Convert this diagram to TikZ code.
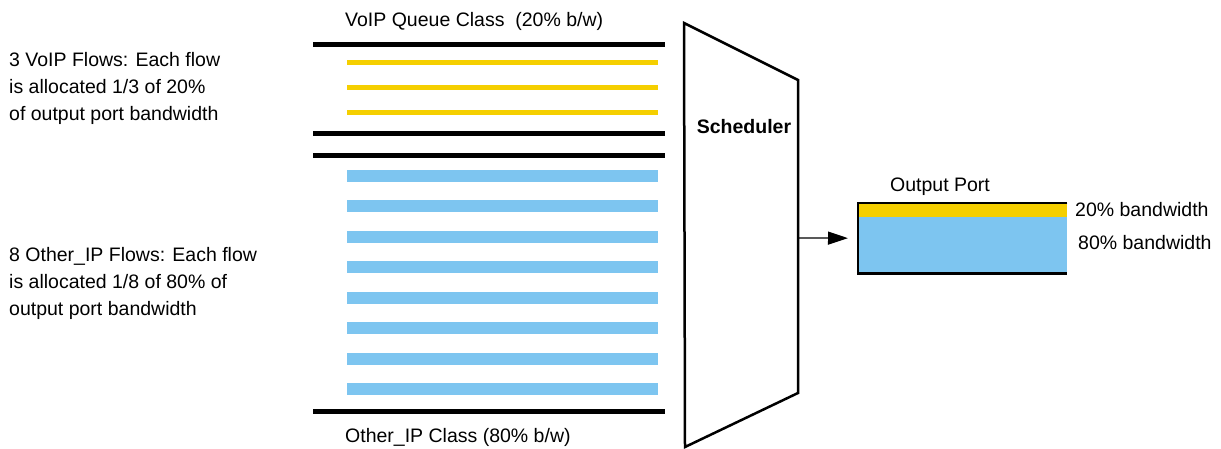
\documentclass[tikz,border=0pt]{standalone}
\usepackage{fontspec}
\setmainfont{Liberation Sans}
\usetikzlibrary{positioning,arrows.meta}
\definecolor{voipyellow}{RGB}{245,207,0}
\definecolor{ipblue}{RGB}{125,197,240}
\tikzset{
	lbl/.style={inner sep=0pt, anchor=base west},
	wall/.style={line width=5pt},
	voipflow/.style={line width=5pt, color=voipyellow},
	ipflow/.style={line width=12pt, color=ipblue},
}
\begin{document}
\begin{tikzpicture}[x=1pt, y=-1pt, font=\fontsize{19.5}{26.7}\selectfont, line join=miter, >={Triangle[length=20pt,width=13pt]}]
				\def\qleft{313} \def\qright{665}
				\def\fleft{347} \def\fright{658}
				\useasboundingbox (0,0) rectangle (1221,449);
				% queue walls and flows
				\foreach \y in {45,134,156,411}\draw[wall] (\qleft,\y)--(\qright,\y);
				\foreach \y in {63,88,113}\draw[voipflow] (\fleft,\y)--(\fright,\y);
				\foreach \i in {0,...,7}\draw[ipflow] (\fleft,176+30.43*\i)--(\fright,176+30.43*\i);
				\node[lbl] (voipcls) at (345,27) {VoIP Queue Class~~(20\% b/w)};
				\node[lbl] (othercls) at (345,442) {Other\_IP Class (80\% b/w)};
				\node[inner sep=0pt, anchor=north west, align=left] (voipnote) at (9,52.5) {3 VoIP Flows: Each flow\\is allocated 1/3 of 20\%\\of output port bandwidth};
				\node[inner sep=0pt, anchor=north west, align=left] (ipnote) at (9,247.5) {8 Other\_IP Flows: Each flow\\is allocated 1/8 of 80\% of\\output port bandwidth};
				% scheduler
				\draw[line width=2.5pt] (684,23)--(798,80)--(798,393)--(685,447)--cycle;
				\node[inner sep=0pt, anchor=base, font=\fontsize{19.5}{26.7}\selectfont\bfseries] (sched) at (744,134) {Scheduler};
				\coordinate (schedout) at (798,238);
				% output port
				\node[minimum width=209pt, minimum height=70pt, inner sep=0pt, anchor=north west] (port) at (858,203) {};
				\fill[ipblue] (port.north west) rectangle (port.south east);
				\fill[voipyellow] (port.north west) rectangle ([yshift=-14pt]port.north east);
				\draw[line width=2.5pt] (port.north east)--(port.north west)--(port.south west)--(port.south east);
				\draw[->, line width=1.2pt, shorten >=10pt] (schedout)--(port.west);
				\node[inner sep=0pt, anchor=base] (portlbl) at (940,192) {Output Port};
				\node[lbl] (bw20) at (1075,217) {20\% bandwidth};
				\node[lbl] (bw80) at (1078,250) {80\% bandwidth};
\end{tikzpicture}
\end{document}
